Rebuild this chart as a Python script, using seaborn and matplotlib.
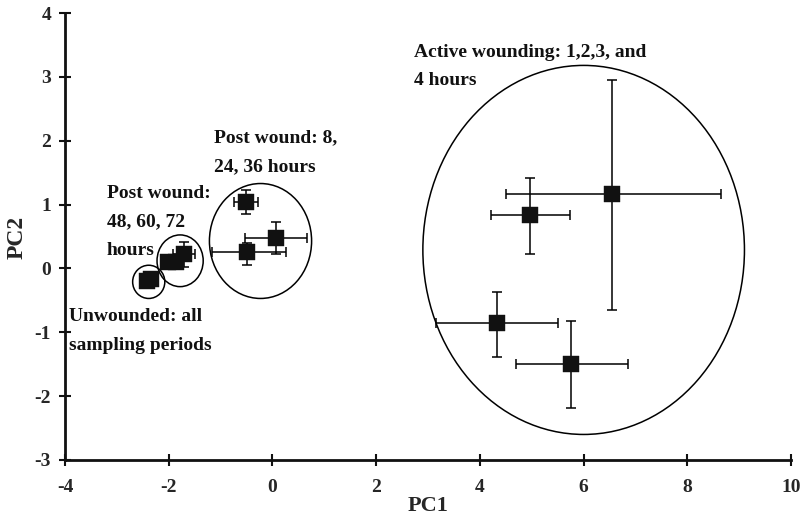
import matplotlib
matplotlib.use("Agg")
import matplotlib.pyplot as plt
from matplotlib.patches import Ellipse
import seaborn as sns
import pandas as pd

# ---- data ----
groups = ["Unwounded", "Unwounded", "Post 48-72", "Post 48-72", "Post 48-72",
          "Post 8-36", "Post 8-36", "Post 8-36",
          "Active", "Active", "Active", "Active"]
pc1 = [-2.42, -2.34, -2.01, -1.85, -1.71, -0.51, 0.07, -0.49, 6.55, 4.97, 4.32, 5.76]
pc2 = [-0.19, -0.16, 0.10, 0.10, 0.22, 1.04, 0.47, 0.25, 1.16, 0.83, -0.85, -1.50]
pc1_err_lo = [0.03, 0.03, 0.0, 0.0, 0.21, 0.23, 0.60, 0.68, 2.05, 0.76, 1.16, 1.07]
pc1_err_hi = [0.03, 0.03, 0.0, 0.0, 0.21, 0.24, 0.59, 0.75, 2.09, 0.76, 1.19, 1.10]
pc2_err_lo = [0.03, 0.03, 0.0, 0.0, 0.20, 0.19, 0.24, 0.20, 1.81, 0.61, 0.53, 0.69]
pc2_err_hi = [0.03, 0.03, 0.0, 0.0, 0.20, 0.19, 0.26, 0.15, 1.79, 0.59, 0.48, 0.67]

ellipse_cx = [-2.385, -1.78, -0.23, 6.0]
ellipse_cy = [-0.21, 0.12, 0.43, 0.29]
ellipse_w = [0.62, 0.89, 1.97, 6.2]
ellipse_h = [0.52, 0.81, 1.80, 5.78]

labels = ["Active wounding: 1,2,3, and\n4 hours",
          "Post wound: 8,\n24, 36 hours",
          "Post wound:\n48, 60, 72\nhours",
          "Unwounded: all\nsampling periods"]
label_x = [2.725, -1.13, -3.19, -3.93]
label_y = [3.52, 2.176, 1.305, -0.627]

xticks = [-4, -2, 0, 2, 4, 6, 8, 10]
yticks = [-3, -2, -1, 0, 1, 2, 3, 4]

df = pd.DataFrame({"group": groups, "PC1": pc1, "PC2": pc2})

sns.set_theme(style="white")
plt.rcParams["font.family"] = ["Liberation Serif", "DejaVu Serif"]
plt.rcParams["font.weight"] = "bold"

fig = plt.figure(figsize=(8.04, 5.22), dpi=100)
ax = fig.add_axes([0.0808, 0.1188, 0.9032, 0.8562])

ax.errorbar(pc1, pc2, xerr=[pc1_err_lo, pc1_err_hi], yerr=[pc2_err_lo, pc2_err_hi],
            fmt="none", ecolor="black", elinewidth=1.1, capsize=3.5, capthick=1.1, zorder=2)
sns.scatterplot(data=df, x="PC1", y="PC2", marker="s", color="#111111", s=130,
                edgecolor="#111111", linewidth=0.3, legend=False, ax=ax, zorder=3)

for cx, cy, w, h in zip(ellipse_cx, ellipse_cy, ellipse_w, ellipse_h):
    ax.add_patch(Ellipse((cx, cy), w, h, fill=False, edgecolor="black", linewidth=1.1, zorder=1))

for t, x, y in zip(labels, label_x, label_y):
    ax.text(x, y, t, ha="left", va="top", fontsize=14, fontweight="bold",
            linespacing=1.88, color="#111111")

ax.set_xlim(-4, 10)
ax.set_ylim(-3, 4)
ax.set_xticks(xticks)
ax.set_yticks(yticks)
ax.set_xticklabels([str(v) for v in xticks], fontsize=14, fontweight="bold")
ax.set_yticklabels([str(v) for v in yticks], fontsize=14, fontweight="bold")
ax.set_xlabel("PC1", fontsize=16, fontweight="bold", labelpad=0)
ax.set_ylabel("PC2", fontsize=17, fontweight="bold")
ax.yaxis.set_label_coords(-0.052, 0.497)

for s in ["top", "right"]:
    ax.spines[s].set_visible(False)
for s in ["left", "bottom"]:
    ax.spines[s].set_color("#111111")
    ax.spines[s].set_linewidth(2)
ax.tick_params(axis="both", direction="inout", length=8, width=1.5, color="#111111",
               left=True, bottom=True)
ax.tick_params(axis="x", pad=10)
ax.tick_params(axis="y", pad=6)

fig.savefig("out.png", dpi=100)
